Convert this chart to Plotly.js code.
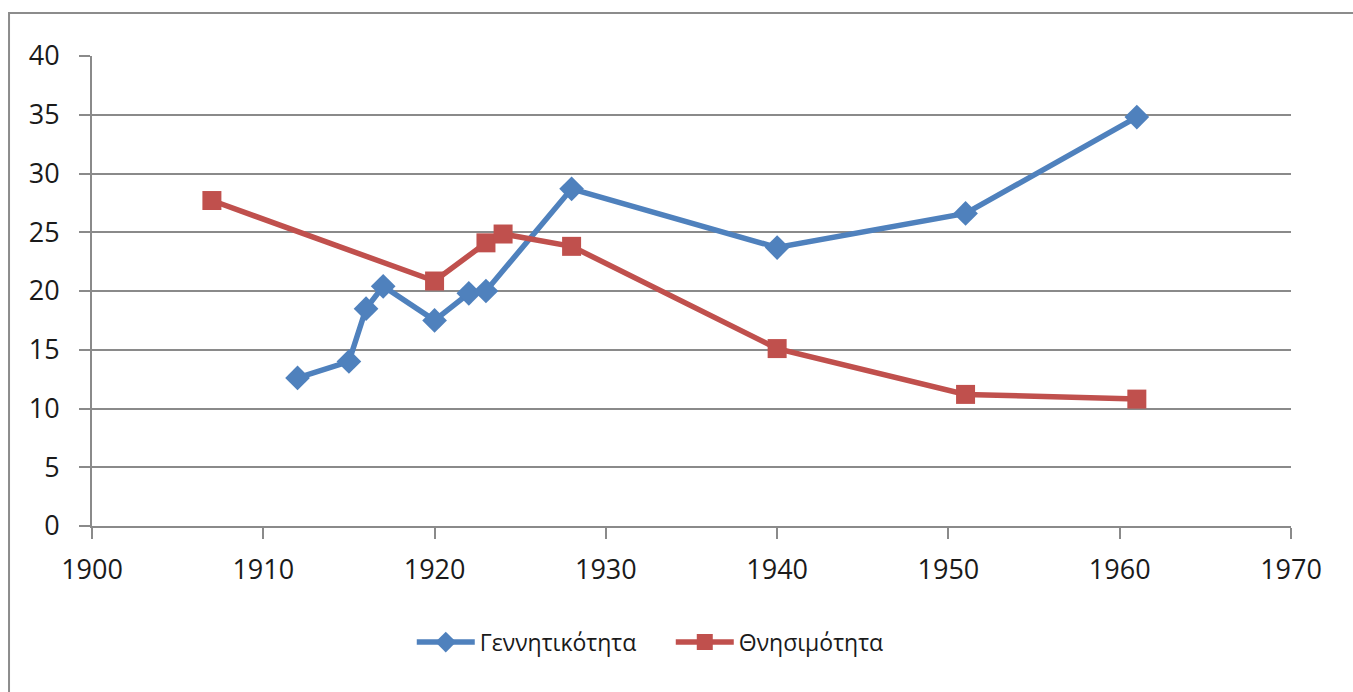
<!DOCTYPE html>
<html>
<head>
<meta charset="utf-8">
<script src="https://cdn.plot.ly/plotly-3.0.1.min.js"></script>
<style>html,body{margin:0;padding:0;background:#fff;}#chart{width:1353px;height:692px;}</style>
</head>
<body>
<div id="chart"></div>
<script>
const birthYears = [1912, 1915, 1916, 1917, 1920, 1922, 1923, 1928, 1940, 1951, 1961];
const birthRate  = [12.6, 14.0, 18.5, 20.4, 17.5, 19.8, 20.0, 28.7, 23.7, 26.6, 34.8];
const deathYears = [1907, 1920, 1923, 1924, 1928, 1940, 1951, 1961];
const deathRate  = [27.7, 20.85, 24.1, 24.85, 23.8, 15.1, 11.2, 10.8];
const seriesNames = ['Γεννητικότητα', 'Θνησιμότητα'];

const gridGray = '#8a8a8a';
const fontFam = '"Open Sans", "Noto Sans", sans-serif';

const traces = [
  {
    x: birthYears, y: birthRate, name: seriesNames[0], type: 'scatter', mode: 'lines+markers',
    line: {color: '#4F81BD', width: 5.5},
    marker: {symbol: 'diamond', size: 19, color: '#4F81BD'}
  },
  {
    x: deathYears, y: deathRate, name: seriesNames[1], type: 'scatter', mode: 'lines+markers',
    line: {color: '#C0504D', width: 5.5},
    marker: {symbol: 'square', size: 19, color: '#C0504D'}
  }
];

const layout = {
  width: 1353, height: 692,
  margin: {l: 92, r: 62, t: 56, b: 166},
  paper_bgcolor: '#fff', plot_bgcolor: '#fff',
  font: {family: fontFam, size: 27, color: '#1a1a1a'},
  showlegend: true,
  legend: {orientation: 'h', x: 0.2667, xanchor: 'left', y: -0.247, yanchor: 'middle',
           font: {family: fontFam, size: 23, color: '#1a1a1a'}, itemwidth: 58,
           entrywidth: 186, entrywidthmode: 'pixels'},
  xaxis: {
    range: [1900, 1970], dtick: 10, tick0: 1900, showgrid: false, zeroline: false,
    showline: true, linecolor: gridGray, linewidth: 2,
    ticks: 'outside', ticklen: 11, tickwidth: 2, tickcolor: gridGray,
    ticklabelstandoff: 8, fixedrange: true
  },
  yaxis: {
    range: [0, 40], dtick: 5, tick0: 0, showgrid: true, gridcolor: gridGray, gridwidth: 2,
    zeroline: false, showline: true, linecolor: gridGray, linewidth: 2,
    ticks: 'outside', ticklen: 11, tickwidth: 2, tickcolor: gridGray,
    ticklabelstandoff: 14, fixedrange: true
  },
  shapes: [{
    type: 'rect', xref: 'paper', yref: 'paper',
    x0: -0.0692, x1: 1.08, y0: -0.6, y1: 1.0915,
    line: {color: '#8c8c8c', width: 2}, fillcolor: 'rgba(0,0,0,0)', layer: 'below'
  }]
};

Plotly.newPlot('chart', traces, layout, {displayModeBar: false, staticPlot: true});
</script>
</body>
</html>
